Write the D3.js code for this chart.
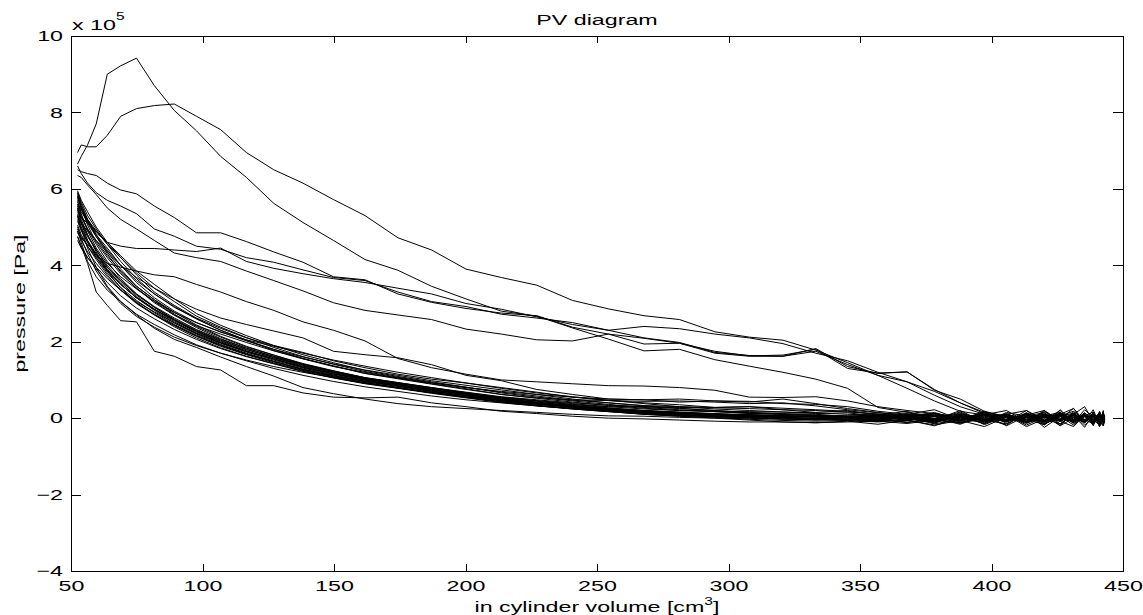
<!DOCTYPE html>
<html>
<head>
<meta charset="utf-8">
<script src="https://cdn.jsdelivr.net/npm/d3@7"></script>
<style>
  body { margin: 0; background: #fff; }
  text { font-family: "Liberation Sans", Arial, Helvetica, sans-serif; fill: #000; }
</style>
</head>
<body>
<div id="chart"></div>
<script>
// in cylinder volume [cm3], one sample every 4 deg of crank angle
const volume = [52.5, 53.9, 56.3, 59.6, 63.8, 68.9, 74.9, 81.7, 89.3, 97.7,
  106.9, 116.7, 127.1, 138.2, 149.8, 161.8, 174.3, 187.1, 200.2, 213.6,
  227.1, 240.7, 254.3, 267.9, 281.4, 294.8, 307.9, 320.7, 333.2, 345.3,
  356.8, 367.9, 378.3, 388.1, 397.3, 405.7, 413.3, 420.1, 426.1, 431.2,
  435.4, 438.7, 441.1, 442.5, 443];

// pressure [x 1e5 Pa], one array per recorded cycle
const cycleA = [6.65, 6.85, 7.15, 7.7, 9.0, 9.22, 9.42, 8.7, 8.05, 7.52, 6.85, 6.3, 5.62, 5.12, 4.65, 4.15, 3.87, 3.45, 3.12, 2.8, 2.67, 2.36, 2.07, 1.76, 1.8, 1.53, 1.36, 1.2, 1.02, 0.78, 0.28, 0.15, 0.05, 0.1, -0.04, 0.12, -0.08, 0.06, 0.15, -0.1, 0.08, -0.06, 0.12, -0.1, 0.04];
const cycleB = [6.95, 7.15, 7.1, 7.1, 7.4, 7.9, 8.1, 8.18, 8.22, 7.9, 7.55, 6.95, 6.5, 6.15, 5.72, 5.3, 4.72, 4.4, 3.9, 3.68, 3.48, 3.08, 2.86, 2.68, 2.58, 2.26, 2.12, 2.04, 1.78, 1.45, 1.12, 0.78, 0.45, 0.18, 0.08, -0.05, 0.1, -0.08, 0.14, -0.04, 0.09, -0.12, 0.07, 0.0, -0.05];
const cycleC = [6.5, 6.45, 6.4, 6.35, 6.15, 5.97, 5.87, 5.55, 5.25, 4.85, 4.85, 4.62, 4.35, 4.08, 3.7, 3.62, 3.25, 3.03, 2.87, 2.75, 2.68, 2.38, 2.2, 2.09, 1.96, 1.75, 1.63, 1.65, 1.8, 1.3, 1.18, 1.21, 0.75, 0.4, 0.12, 0.02, -0.1, 0.08, -0.06, 0.11, -0.09, 0.05, -0.03, 0.1, -0.04];
const cycleD = [6.6, 6.4, 6.15, 5.9, 5.7, 5.55, 5.35, 4.95, 4.76, 4.5, 4.42, 4.2, 4.08, 3.88, 3.68, 3.6, 3.3, 3.05, 2.92, 2.72, 2.62, 2.5, 2.3, 2.1, 1.98, 1.72, 1.64, 1.62, 1.75, 1.4, 1.12, 0.95, 0.6, 0.3, 0.1, -0.06, 0.09, -0.1, 0.05, 0.13, -0.07, 0.06, -0.11, 0.04, 0.0];
const cycleE = [5.9, 5.6, 5.2, 4.85, 4.6, 4.5, 4.44, 4.44, 4.4, 4.36, 4.45, 4.1, 3.92, 3.78, 3.65, 3.55, 3.4, 3.25, 3.0, 2.85, 2.65, 2.45, 2.3, 2.4, 2.34, 2.2, 2.1, 1.95, 1.7, 1.5, 1.2, 0.95, 0.7, 0.4, 0.15, 0.05, -0.08, 0.1, -0.05, 0.07, -0.12, 0.09, 0.0, -0.07, 0.05];
const cycleF = [6.35, 6.3, 6.1, 5.85, 5.5, 5.2, 4.95, 4.65, 4.32, 4.2, 4.1, 3.85, 3.6, 3.33, 3.02, 2.82, 2.7, 2.58, 2.33, 2.2, 2.05, 2.02, 2.2, 1.94, 1.96, 1.7, 1.62, 1.62, 1.82, 1.35, 1.17, 1.21, 0.73, 0.5, 0.18, 0.04, -0.09, 0.07, -0.03, 0.12, -0.08, 0.04, 0.1, -0.06, 0.02];
const cycleG = [5.5, 5.1, 4.65, 4.25, 4.05, 3.95, 3.85, 3.75, 3.7, 3.5, 3.3, 3.05, 2.82, 2.52, 2.3, 2.02, 1.56, 1.32, 1.15, 1.0, 0.95, 0.9, 0.85, 0.84, 0.8, 0.73, 0.55, 0.54, 0.56, 0.45, 0.3, 0.2, 0.12, 0.02, 0.1, -0.06, 0.08, -0.1, 0.12, -0.03, 0.06, -0.09, 0.04, 0.08, -0.02];
const cycleH = [5.8, 5.5, 5.1, 4.75, 4.4, 4.0, 3.68, 3.4, 3.12, 2.85, 2.62, 2.45, 2.28, 2.1, 1.75, 1.66, 1.58, 1.4, 1.12, 0.98, 0.75, 0.62, 0.5, 0.48, 0.5, 0.45, 0.42, 0.5, 0.38, 0.25, 0.15, 0.05, -0.04, 0.08, -0.1, 0.05, -0.02, 0.11, -0.07, 0.03, -0.12, 0.06, 0.02, -0.08, 0.04];
const cycleL1 = [4.75, 4.5, 4.05, 3.3, 2.95, 2.55, 2.52, 1.75, 1.62, 1.35, 1.26, 0.85, 0.85, 0.66, 0.55, 0.53, 0.55, 0.4, 0.3, 0.18, 0.12, 0.05, 0.0, -0.02, -0.05, -0.08, -0.1, -0.1, -0.12, -0.1, -0.08, -0.14, -0.05, -0.12, 0.0, -0.09, 0.04, -0.13, -0.02, -0.08, 0.06, -0.1, -0.03, 0.02, -0.06];
const cycleL2 = [4.9, 4.6, 4.1, 3.7, 3.35, 3.05, 2.7, 2.35, 2.06, 1.85, 1.6, 1.35, 1.1, 0.8, 0.64, 0.5, 0.38, 0.3, 0.25, 0.2, 0.15, 0.1, 0.06, 0.05, 0.02, 0.0, -0.02, 0.0, -0.04, 0.03, -0.06, 0.02, -0.1, 0.05, -0.04, 0.09, -0.11, 0.02, -0.05, 0.1, -0.08, 0.03, -0.12, 0.05, -0.02];

const bundle01 = [5.9, 5.65, 5.3, 4.95, 4.55, 4.1, 3.65, 3.25, 2.9, 2.6, 2.3, 2.04, 1.77, 1.56, 1.37, 1.17, 1.05, 0.9, 0.77, 0.62, 0.52, 0.42, 0.33, 0.26, 0.2, 0.17, 0.12, 0.1, 0.06, 0.05, 0.08, 0.02, 0.12, -0.08, 0.18, -0.14, 0.08, 0.2, -0.16, 0.12, -0.1, 0.22, -0.18, 0.1, -0.04];
const bundle02 = [5.8, 5.55, 5.2, 4.8, 4.35, 3.9, 3.45, 3.1, 2.77, 2.44, 2.14, 1.88, 1.65, 1.43, 1.24, 1.06, 0.93, 0.8, 0.66, 0.54, 0.45, 0.36, 0.27, 0.2, 0.16, 0.12, 0.09, 0.05, 0.04, 0.02, 0.0, 0.04, -0.05, 0.03, -0.06, 0.09, -0.1, 0.04, 0.11, -0.07, 0.06, -0.13, 0.1, -0.04, 0.03];
const bundle03 = [5.75, 5.5, 5.15, 4.75, 4.3, 3.82, 3.4, 3.02, 2.69, 2.37, 2.08, 1.83, 1.61, 1.39, 1.21, 1.03, 0.91, 0.77, 0.65, 0.52, 0.42, 0.33, 0.25, 0.19, 0.15, 0.1, 0.08, 0.05, 0.02, 0.03, -0.02, 0.08, -0.14, 0.12, 0.0, -0.18, 0.14, -0.06, 0.2, -0.15, 0.06, 0.16, -0.22, 0.12, -0.05];
const bundle04 = [5.65, 5.45, 5.2, 4.9, 4.55, 4.2, 3.8, 3.4, 3.05, 2.67, 2.38, 2.11, 1.85, 1.61, 1.41, 1.22, 1.07, 0.93, 0.81, 0.68, 0.58, 0.47, 0.4, 0.33, 0.3, 0.28, 0.3, 0.26, 0.22, 0.18, 0.1, 0.06, 0.1, -0.02, 0.08, -0.05, 0.12, -0.06, 0.09, 0.02, -0.1, 0.1, -0.05, 0.12, -0.08];
const bundle05 = [5.6, 5.3, 4.95, 4.55, 4.1, 3.65, 3.25, 2.9, 2.57, 2.27, 2.0, 1.76, 1.55, 1.33, 1.15, 0.99, 0.85, 0.73, 0.61, 0.48, 0.38, 0.3, 0.22, 0.16, 0.11, 0.08, 0.05, 0.02, 0.0, -0.02, 0.03, -0.06, 0.04, -0.14, 0.1, -0.2, 0.06, 0.14, -0.16, 0.08, -0.24, 0.12, -0.1, 0.16, -0.02];
const bundle06 = [5.55, 5.2, 4.8, 4.35, 3.85, 3.4, 3.02, 2.7, 2.39, 2.1, 1.84, 1.62, 1.43, 1.23, 1.06, 0.91, 0.79, 0.67, 0.55, 0.43, 0.34, 0.26, 0.18, 0.12, 0.08, 0.04, 0.02, -0.02, -0.05, -0.04, -0.08, -0.03, -0.1, 0.02, -0.06, 0.05, -0.12, 0.03, -0.08, 0.08, -0.04, -0.14, 0.06, -0.09, 0.0];
const bundle07 = [5.5, 5.25, 4.95, 4.65, 4.25, 3.85, 3.45, 3.1, 2.72, 2.4, 2.12, 1.86, 1.65, 1.41, 1.23, 1.05, 0.92, 0.79, 0.67, 0.55, 0.46, 0.38, 0.3, 0.24, 0.2, 0.18, 0.17, 0.16, 0.14, 0.1, 0.08, 0.03, 0.15, -0.05, 0.09, 0.2, -0.1, 0.17, -0.04, 0.26, -0.12, 0.14, -0.16, 0.07, 0.03];
const bundle08 = [5.45, 5.15, 4.8, 4.4, 3.95, 3.55, 3.18, 2.85, 2.52, 2.22, 1.96, 1.73, 1.52, 1.31, 1.13, 0.97, 0.84, 0.71, 0.59, 0.46, 0.37, 0.28, 0.21, 0.15, 0.1, 0.06, 0.03, 0.01, -0.02, -0.06, -0.03, -0.1, -0.05, -0.12, -0.02, -0.08, 0.03, -0.1, 0.05, -0.05, 0.08, -0.12, 0.02, -0.06, -0.03];
const bundle09 = [5.4, 5.25, 5.1, 4.9, 4.6, 4.25, 3.85, 3.5, 3.12, 2.74, 2.43, 2.16, 1.9, 1.66, 1.45, 1.25, 1.09, 0.95, 0.81, 0.66, 0.55, 0.45, 0.36, 0.28, 0.22, 0.17, 0.13, 0.1, 0.07, 0.05, 0.06, 0.03, 0.12, -0.04, 0.17, 0.0, -0.1, 0.2, -0.07, 0.1, 0.3, -0.08, 0.14, -0.16, 0.08];
const bundle10 = [5.35, 5.1, 4.75, 4.4, 4.0, 3.6, 3.22, 2.9, 2.59, 2.3, 2.04, 1.8, 1.58, 1.36, 1.19, 1.02, 0.89, 0.75, 0.63, 0.5, 0.4, 0.32, 0.25, 0.19, 0.14, 0.1, 0.07, 0.05, 0.03, 0.0, 0.04, -0.02, 0.06, -0.07, 0.02, -0.03, 0.1, -0.09, 0.05, -0.11, 0.03, 0.07, -0.08, 0.04, -0.02];
const bundle11 = [5.3, 5.0, 4.65, 4.3, 3.9, 3.5, 3.15, 2.82, 2.49, 2.2, 1.93, 1.7, 1.49, 1.28, 1.11, 0.95, 0.83, 0.7, 0.58, 0.45, 0.36, 0.28, 0.2, 0.14, 0.09, 0.06, 0.04, 0.02, 0.05, 0.02, -0.03, 0.1, -0.08, 0.14, -0.17, 0.05, -0.07, 0.15, -0.2, 0.17, -0.05, 0.09, -0.15, 0.2, -0.08];
const bundle12 = [5.25, 5.1, 4.9, 4.65, 4.35, 4.0, 3.6, 3.25, 2.92, 2.6, 2.3, 2.04, 1.8, 1.56, 1.36, 1.17, 1.03, 0.89, 0.75, 0.62, 0.53, 0.48, 0.46, 0.44, 0.45, 0.42, 0.38, 0.4, 0.32, 0.22, 0.14, 0.08, 0.12, 0.02, 0.06, -0.04, 0.1, 0.0, 0.07, -0.06, 0.12, -0.02, 0.05, -0.08, 0.03];
const bundle13 = [5.2, 4.95, 4.6, 4.2, 3.8, 3.42, 3.08, 2.76, 2.45, 2.17, 1.91, 1.68, 1.48, 1.27, 1.09, 0.93, 0.8, 0.67, 0.55, 0.42, 0.33, 0.25, 0.18, 0.12, 0.08, 0.04, 0.0, -0.03, -0.01, -0.05, -0.02, -0.12, 0.0, -0.16, 0.07, -0.1, 0.14, -0.24, 0.04, -0.12, 0.1, -0.17, 0.16, -0.07, -0.1];
const bundle14 = [5.15, 4.9, 4.6, 4.25, 3.87, 3.5, 3.15, 2.85, 2.57, 2.28, 2.02, 1.79, 1.59, 1.38, 1.2, 1.04, 0.91, 0.78, 0.66, 0.53, 0.44, 0.35, 0.3, 0.3, 0.28, 0.27, 0.25, 0.22, 0.2, 0.16, 0.11, 0.05, 0.08, -0.02, 0.04, 0.1, -0.05, 0.06, -0.08, 0.1, -0.03, 0.07, -0.06, 0.11, 0.01];
const bundle15 = [5.05, 4.8, 4.5, 4.15, 3.75, 3.35, 3.0, 2.7, 2.42, 2.14, 1.88, 1.66, 1.45, 1.25, 1.08, 0.92, 0.79, 0.66, 0.54, 0.42, 0.33, 0.24, 0.17, 0.1, 0.05, 0.02, -0.03, -0.06, -0.08, -0.06, -0.1, -0.05, -0.18, -0.06, -0.22, 0.03, -0.14, 0.07, -0.2, 0.0, -0.1, 0.08, -0.22, -0.03, -0.12];
const bundle16 = [4.95, 4.75, 4.5, 4.2, 3.85, 3.5, 3.15, 2.85, 2.55, 2.25, 1.98, 1.75, 1.55, 1.33, 1.16, 1.0, 0.87, 0.74, 0.62, 0.49, 0.4, 0.31, 0.23, 0.17, 0.13, 0.1, 0.09, 0.07, 0.05, 0.06, 0.03, 0.07, -0.01, 0.05, -0.04, 0.08, 0.01, -0.07, 0.11, -0.03, 0.04, -0.1, 0.07, 0.0, 0.03];
const bundle17 = [4.9, 4.65, 4.35, 4.05, 3.7, 3.35, 3.02, 2.72, 2.43, 2.15, 1.9, 1.68, 1.48, 1.28, 1.11, 0.96, 0.84, 0.71, 0.59, 0.47, 0.38, 0.3, 0.23, 0.17, 0.12, 0.08, 0.05, 0.03, 0.04, 0.0, -0.04, 0.05, -0.1, 0.07, -0.15, 0.1, -0.03, -0.17, 0.08, -0.08, 0.14, -0.05, -0.18, 0.1, -0.06];
const bundle18 = [4.85, 4.7, 4.55, 4.3, 3.95, 3.6, 3.25, 2.92, 2.62, 2.32, 2.06, 1.83, 1.62, 1.41, 1.23, 1.06, 0.93, 0.8, 0.68, 0.56, 0.48, 0.4, 0.34, 0.3, 0.25, 0.2, 0.15, 0.12, 0.1, 0.05, 0.02, 0.08, -0.03, 0.06, -0.05, 0.1, -0.08, 0.05, 0.0, -0.09, 0.09, -0.04, 0.06, -0.07, 0.02];
const bundle19 = [4.75, 4.5, 4.2, 3.9, 3.55, 3.2, 2.88, 2.6, 2.32, 2.06, 1.82, 1.61, 1.42, 1.22, 1.05, 0.9, 0.78, 0.65, 0.53, 0.41, 0.32, 0.24, 0.17, 0.11, 0.07, 0.04, 0.01, -0.02, -0.04, -0.02, -0.07, 0.02, -0.15, -0.03, -0.1, 0.08, -0.18, 0.03, -0.08, -0.22, 0.07, -0.13, 0.0, -0.2, -0.08];
const bundle20 = [4.65, 4.45, 4.2, 3.95, 3.65, 3.35, 3.05, 2.78, 2.49, 2.22, 1.97, 1.75, 1.55, 1.34, 1.17, 1.01, 0.88, 0.75, 0.63, 0.5, 0.41, 0.33, 0.26, 0.2, 0.15, 0.11, 0.08, 0.06, 0.04, 0.02, 0.05, -0.01, 0.04, -0.05, 0.07, -0.08, 0.03, 0.1, -0.06, 0.04, -0.1, 0.06, -0.03, 0.09, -0.01];
const bundle21 = [5.95, 5.7, 5.4, 5.0, 4.6, 4.2, 3.75, 3.3, 2.95, 2.62, 2.35, 2.1, 1.9, 1.72, 1.5, 1.32, 1.15, 1.02, 0.92, 0.8, 0.68, 0.55, 0.46, 0.4, 0.35, 0.28, 0.3, 0.22, 0.15, 0.2, 0.08, 0.18, -0.05, 0.2, -0.12, 0.15, 0.05, -0.18, 0.22, -0.1, 0.12, -0.2, 0.18, -0.06, 0.05];
const bundle22 = [5.7, 5.35, 4.9, 4.45, 4.05, 3.7, 3.38, 3.05, 2.7, 2.42, 2.2, 1.98, 1.76, 1.55, 1.35, 1.2, 1.05, 0.92, 0.8, 0.7, 0.62, 0.55, 0.5, 0.48, 0.42, 0.45, 0.44, 0.38, 0.36, 0.3, 0.18, 0.1, 0.22, -0.04, 0.15, -0.1, 0.2, -0.14, 0.1, 0.25, -0.08, 0.14, -0.16, 0.08, -0.03];
const bundle23 = [5.3, 4.95, 4.45, 3.95, 3.45, 3.05, 2.72, 2.45, 2.18, 1.92, 1.7, 1.5, 1.3, 1.12, 0.96, 0.82, 0.7, 0.58, 0.48, 0.4, 0.32, 0.25, 0.18, 0.1, 0.05, 0.0, -0.05, -0.1, -0.12, -0.08, -0.16, -0.05, -0.2, 0.02, -0.14, 0.08, -0.22, -0.02, -0.15, 0.1, -0.18, 0.0, -0.1, -0.2, -0.04];
const bundle24 = [5.6, 5.4, 5.15, 4.8, 4.45, 4.0, 3.55, 3.15, 2.8, 2.5, 2.25, 2.05, 1.88, 1.7, 1.52, 1.36, 1.2, 1.06, 0.92, 0.78, 0.66, 0.56, 0.47, 0.38, 0.3, 0.24, 0.2, 0.16, 0.12, 0.14, 0.05, 0.12, -0.02, 0.16, -0.08, 0.1, 0.2, -0.05, 0.14, -0.12, 0.22, 0.02, -0.1, 0.15, 0.0];
const bundle25 = [5.0, 4.7, 4.3, 3.85, 3.42, 3.0, 2.66, 2.38, 2.12, 1.9, 1.7, 1.52, 1.35, 1.2, 1.06, 0.92, 0.8, 0.68, 0.56, 0.46, 0.38, 0.3, 0.24, 0.18, 0.14, 0.1, 0.06, 0.02, -0.03, 0.02, -0.08, 0.06, -0.12, 0.1, -0.05, -0.15, 0.12, -0.08, 0.05, -0.18, 0.08, -0.12, 0.15, -0.06, 0.0];
const bundle26 = [5.85, 5.5, 5.05, 4.6, 4.2, 3.78, 3.4, 3.06, 2.76, 2.5, 2.26, 2.02, 1.8, 1.6, 1.42, 1.26, 1.12, 0.98, 0.86, 0.74, 0.62, 0.5, 0.4, 0.32, 0.26, 0.2, 0.14, 0.1, 0.08, 0.04, 0.1, -0.06, 0.08, -0.1, 0.14, -0.04, 0.1, -0.16, 0.06, 0.18, -0.08, 0.1, -0.14, 0.05, -0.02];

const cycles = [
  cycleA, cycleB, cycleC, cycleD, cycleE, cycleF, cycleG, cycleH, cycleL1, cycleL2,
  bundle01, bundle02, bundle03, bundle04, bundle05, bundle06, bundle07, bundle08, bundle09, bundle10,
  bundle11, bundle12, bundle13, bundle14, bundle15, bundle16, bundle17, bundle18, bundle19, bundle20,
  bundle21, bundle22, bundle23, bundle24, bundle25, bundle26
];

const xTicks = [50, 100, 150, 200, 250, 300, 350, 400, 450];
const yTicks = [-4, -2, 0, 2, 4, 6, 8, 10];

const
  FONT_SIZE = 15,
  STRETCH_X = 1.55;   // the reference text is drawn wide

const width = 1143, height = 615;
const margin = { left: 71, right: 20, top: 36, bottom: 44 };
const plotW = width - margin.left - margin.right;
const plotH = height - margin.top - margin.bottom;

const svg = d3.select('#chart')
  .append('svg')
  .attr('width', width)
  .attr('height', height);

const xScale = d3.scaleLinear().domain([50, 450]).range([0, plotW]);
const yScale = d3.scaleLinear().domain([-4, 10]).range([plotH, 0]);

const g = svg.append('g')
  .attr('transform', `translate(${margin.left},${margin.top})`);

g.append('clipPath')
  .attr('id', 'plot-clip')
  .append('rect')
  .attr('width', plotW)
  .attr('height', plotH);

// curves
const line = d3.line()
  .x((d, i) => xScale(volume[i]))
  .y(d => yScale(d));

g.append('g')
  .attr('clip-path', 'url(#plot-clip)')
  .selectAll('path')
  .data(cycles)
  .enter()
  .append('path')
  .attr('d', line)
  .attr('fill', 'none')
  .attr('stroke', '#000')
  .attr('stroke-width', 1)
  .attr('stroke-linejoin', 'round');

const minus = (d) => d < 0 ? '\u2212' + Math.abs(d) : String(d);

// widen a text node around its own x position
function stretch(sel) {
  sel.each(function () {
    const t = d3.select(this);
    const x = +t.attr('x') || 0;
    const prev = t.attr('transform') || '';
    t.attr('x', x / STRETCH_X).attr('transform', `${prev} scale(${STRETCH_X},1)`);
  });
}

function styleAxis(sel) {
  sel.select('.domain').remove();
  sel.selectAll('.tick line').attr('stroke', '#000').attr('shape-rendering', 'crispEdges');
  sel.selectAll('.tick text')
    .attr('font-size', FONT_SIZE)
    .attr('fill', '#000')
    .call(stretch);
}

g.append('g')
  .attr('transform', `translate(0,${plotH})`)
  .call(d3.axisBottom(xScale).tickValues(xTicks).tickSize(-7).tickPadding(9).tickFormat(minus))
  .call(styleAxis);

g.append('g')
  .call(d3.axisTop(xScale).tickValues(xTicks).tickSize(-7).tickFormat(''))
  .call(styleAxis);

g.append('g')
  .call(d3.axisLeft(yScale).tickValues(yTicks).tickSize(-10).tickPadding(8).tickFormat(minus))
  .call(styleAxis);

g.append('g')
  .attr('transform', `translate(${plotW},0)`)
  .call(d3.axisRight(yScale).tickValues(yTicks).tickSize(-10).tickFormat(''))
  .call(styleAxis);

// box
g.append('rect')
  .attr('x', 0.5)
  .attr('y', 0.5)
  .attr('width', plotW)
  .attr('height', plotH)
  .attr('fill', 'none')
  .attr('stroke', '#000')
  .attr('shape-rendering', 'crispEdges');

// title and labels
svg.append('text')
  .attr('x', margin.left + plotW / 2)
  .attr('y', 25)
  .attr('text-anchor', 'middle')
  .attr('font-size', FONT_SIZE)
  .text('PV diagram')
  .call(stretch);

const scaleNote = svg.append('text')
  .attr('x', margin.left + 1)
  .attr('y', 30)
  .attr('font-size', FONT_SIZE);
scaleNote.append('tspan').text('x 10');
scaleNote.append('tspan').attr('dy', -10).attr('font-size', 10).text('5');
scaleNote.call(stretch);

const xLabel = svg.append('text')
  .attr('x', margin.left + plotW / 2)
  .attr('y', 612)
  .attr('text-anchor', 'middle')
  .attr('font-size', FONT_SIZE);
xLabel.append('tspan').text('in cylinder volume [cm');
xLabel.append('tspan').attr('dy', -7).attr('font-size', 10).text('3');
xLabel.append('tspan').attr('dy', 7).text(']');
xLabel.call(stretch);

svg.append('text')
  .attr('transform', `translate(25,${margin.top + plotH / 2}) rotate(-90)`)
  .attr('text-anchor', 'middle')
  .attr('font-size', FONT_SIZE)
  .text('pressure [Pa]')
  .call(stretch);
</script>
</body>
</html>
